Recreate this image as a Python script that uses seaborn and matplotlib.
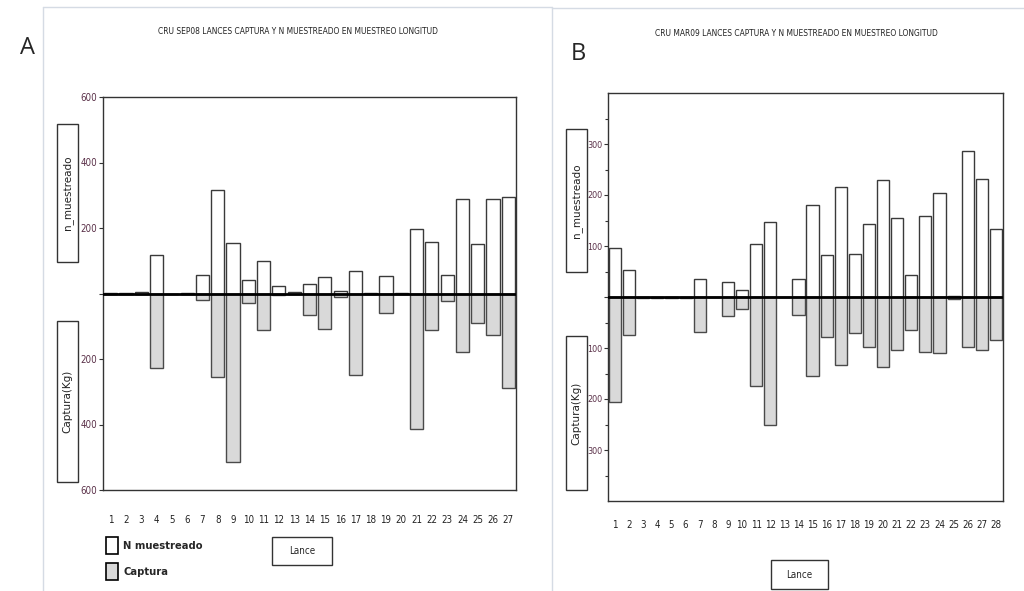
import matplotlib.pyplot as plt
import matplotlib.patches as mpatches
import pandas as pd
import seaborn as sns

# Panel A: CRU SEP08
lance_a = list(range(1, 28))
n_muestreado_a = [1, 1, 4, 118, 0, 2, 56, 317, 154, 42, 98, 22, 5, 30, 49, 9,
                  68, 2, 52, 2, 196, 157, 56, 290, 150, 288, 294]
captura_a = [2, 2, 3, 228, 0, 3, 19, 254, 513, 29, 111, 5, 3, 65, 108, 12,
             248, 3, 59, 3, 414, 111, 22, 179, 90, 127, 289]

# Panel B: CRU MAR09
lance_b = list(range(1, 29))
n_muestreado_b = [97, 53, 0, 0, 0, 0, 35, 0, 29, 14, 103, 147, 0, 35, 180, 82,
                  215, 84, 143, 229, 155, 43, 158, 204, 2, 287, 232, 134]
captura_b = [205, 75, 1, 1, 1, 1, 68, 0, 37, 24, 175, 250, 0, 35, 155, 79,
             133, 70, 98, 138, 104, 65, 107, 109, 3, 98, 104, 85]

title_a = "CRU SEP08 LANCES CAPTURA Y N MUESTREADO EN MUESTREO LONGITUD"
title_b = "CRU MAR09 LANCES CAPTURA Y N MUESTREADO EN MUESTREO LONGITUD"

sns.set_style("white")
narrow = dict(family="DejaVu Sans", stretch="condensed")
W, H = 1024, 591
fig = plt.figure(figsize=(W / 100, H / 100), dpi=100)


def fx(x):
    return x / W


def fy(y):
    return 1 - y / H


def box(x0, y0, x1, y1, fc="white", ec="#333333", lw=1.0):
    fig.patches.append(mpatches.Rectangle((fx(x0), fy(y1)), fx(x1) - fx(x0), fy(y0) - fy(y1),
                                          transform=fig.transFigure, fc=fc, ec=ec, lw=lw))


def panel(rect, lance, n, cap, lim, major, minor, pad, ysize):
    ax = fig.add_axes([fx(rect[0]), fy(rect[3]), fx(rect[2]) - fx(rect[0]), fy(rect[1]) - fy(rect[3])])
    df = pd.DataFrame({"Lance": lance, "N muestreado": n, "Captura": [-c for c in cap]})
    sns.barplot(data=df, x="Lance", y="N muestreado", color="white", edgecolor="#3a3a3a",
                linewidth=1, width=0.86, saturation=1, errorbar=None, ax=ax)
    sns.barplot(data=df, x="Lance", y="Captura", color="#d9d9d9", edgecolor="#4a4a4a",
                linewidth=1, width=0.86, saturation=1, errorbar=None, ax=ax)
    ax.axhline(0, color="black", lw=2, zorder=5)
    ax.set_xlim(-0.5, len(lance) - 0.5)
    ax.set_ylim(-lim, lim)
    ax.set_yticks(major)
    ax.set_yticklabels([str(abs(v)) if v != 0 else "" for v in major],
                       fontsize=ysize, color="#5a3048", **narrow)
    if minor:
        ax.set_yticks(minor, minor=True)
    ax.tick_params(axis="y", which="both", direction="out", length=3, width=0.8,
                   color="#333333", left=True, pad=1)
    ax.tick_params(axis="y", which="minor", length=2)
    ax.set_xticklabels([str(v) for v in lance], fontsize=7, color="#222222", **narrow)
    ax.tick_params(axis="x", length=0, pad=pad)
    ax.set_xlabel("")
    ax.set_ylabel("")
    for s in ax.spines.values():
        s.set_color("#333333")
        s.set_linewidth(1)
    return ax


# panel frames
fig.add_artist(plt.Line2D([fx(43), fx(552)], [fy(7), fy(7)], color="#d5dbe4", lw=1))
fig.add_artist(plt.Line2D([fx(43), fx(43)], [fy(7), 0], color="#d5dbe4", lw=1))
fig.add_artist(plt.Line2D([fx(552), fx(1024)], [fy(8), fy(8)], color="#d5dbe4", lw=1))
fig.add_artist(plt.Line2D([fx(552), fx(552)], [fy(7), 0], color="#d5dbe4", lw=1))

panel((103, 97, 516, 490), lance_a, n_muestreado_a, captura_a, 600,
      [-600, -400, -200, 0, 200, 400, 600], None, 18, 7)
panel((608, 93, 1003, 501), lance_b, n_muestreado_b, captura_b, 400,
      [-300, -200, -100, 0, 100, 200, 300], [-350, -250, -150, -50, 50, 150, 250, 350], 14, 6.5)

fig.text(fx(28), fy(48), "A", fontsize=17, family="Open Sans", ha="center", va="center")
fig.text(fx(578), fy(54), "B", fontsize=17, family="Open Sans", ha="center", va="center")
fig.text(fx(298), fy(31), title_a, fontsize=6, ha="center", va="center", color="#222222", **narrow)
fig.text(fx(796), fy(33), title_b, fontsize=6, ha="center", va="center", color="#222222", **narrow)

# y label boxes
for (x0, y0, x1, y1, label) in [(57, 124, 78, 262, "n_muestreado"), (57, 321, 78, 482, "Captura(Kg)"),
                                (566, 129, 587, 272, "n_muestreado"), (566, 336, 587, 490, "Captura(Kg)")]:
    box(x0, y0, x1, y1)
    fig.text(fx((x0 + x1) / 2), fy((y0 + y1) / 2), label, rotation=90, fontsize=7.5,
             ha="center", va="center", color="#222222")

# x label boxes
box(272, 537, 332, 565)
fig.text(fx(302), fy(551), "Lance", fontsize=7, ha="center", va="center", **narrow)
box(771, 560, 828, 589)
fig.text(fx(799.5), fy(574.5), "Lance", fontsize=7, ha="center", va="center", **narrow)

# legend
box(106, 537, 118, 554, fc="white", ec="black", lw=1.2)
fig.text(fx(123), fy(546), "N muestreado", fontsize=8, weight="bold", va="center", **narrow)
box(106, 563, 118, 580, fc="#d9d9d9", ec="black", lw=1.2)
fig.text(fx(123), fy(572), "Captura", fontsize=8, weight="bold", va="center", **narrow)

fig.savefig("out.png", dpi=100)
